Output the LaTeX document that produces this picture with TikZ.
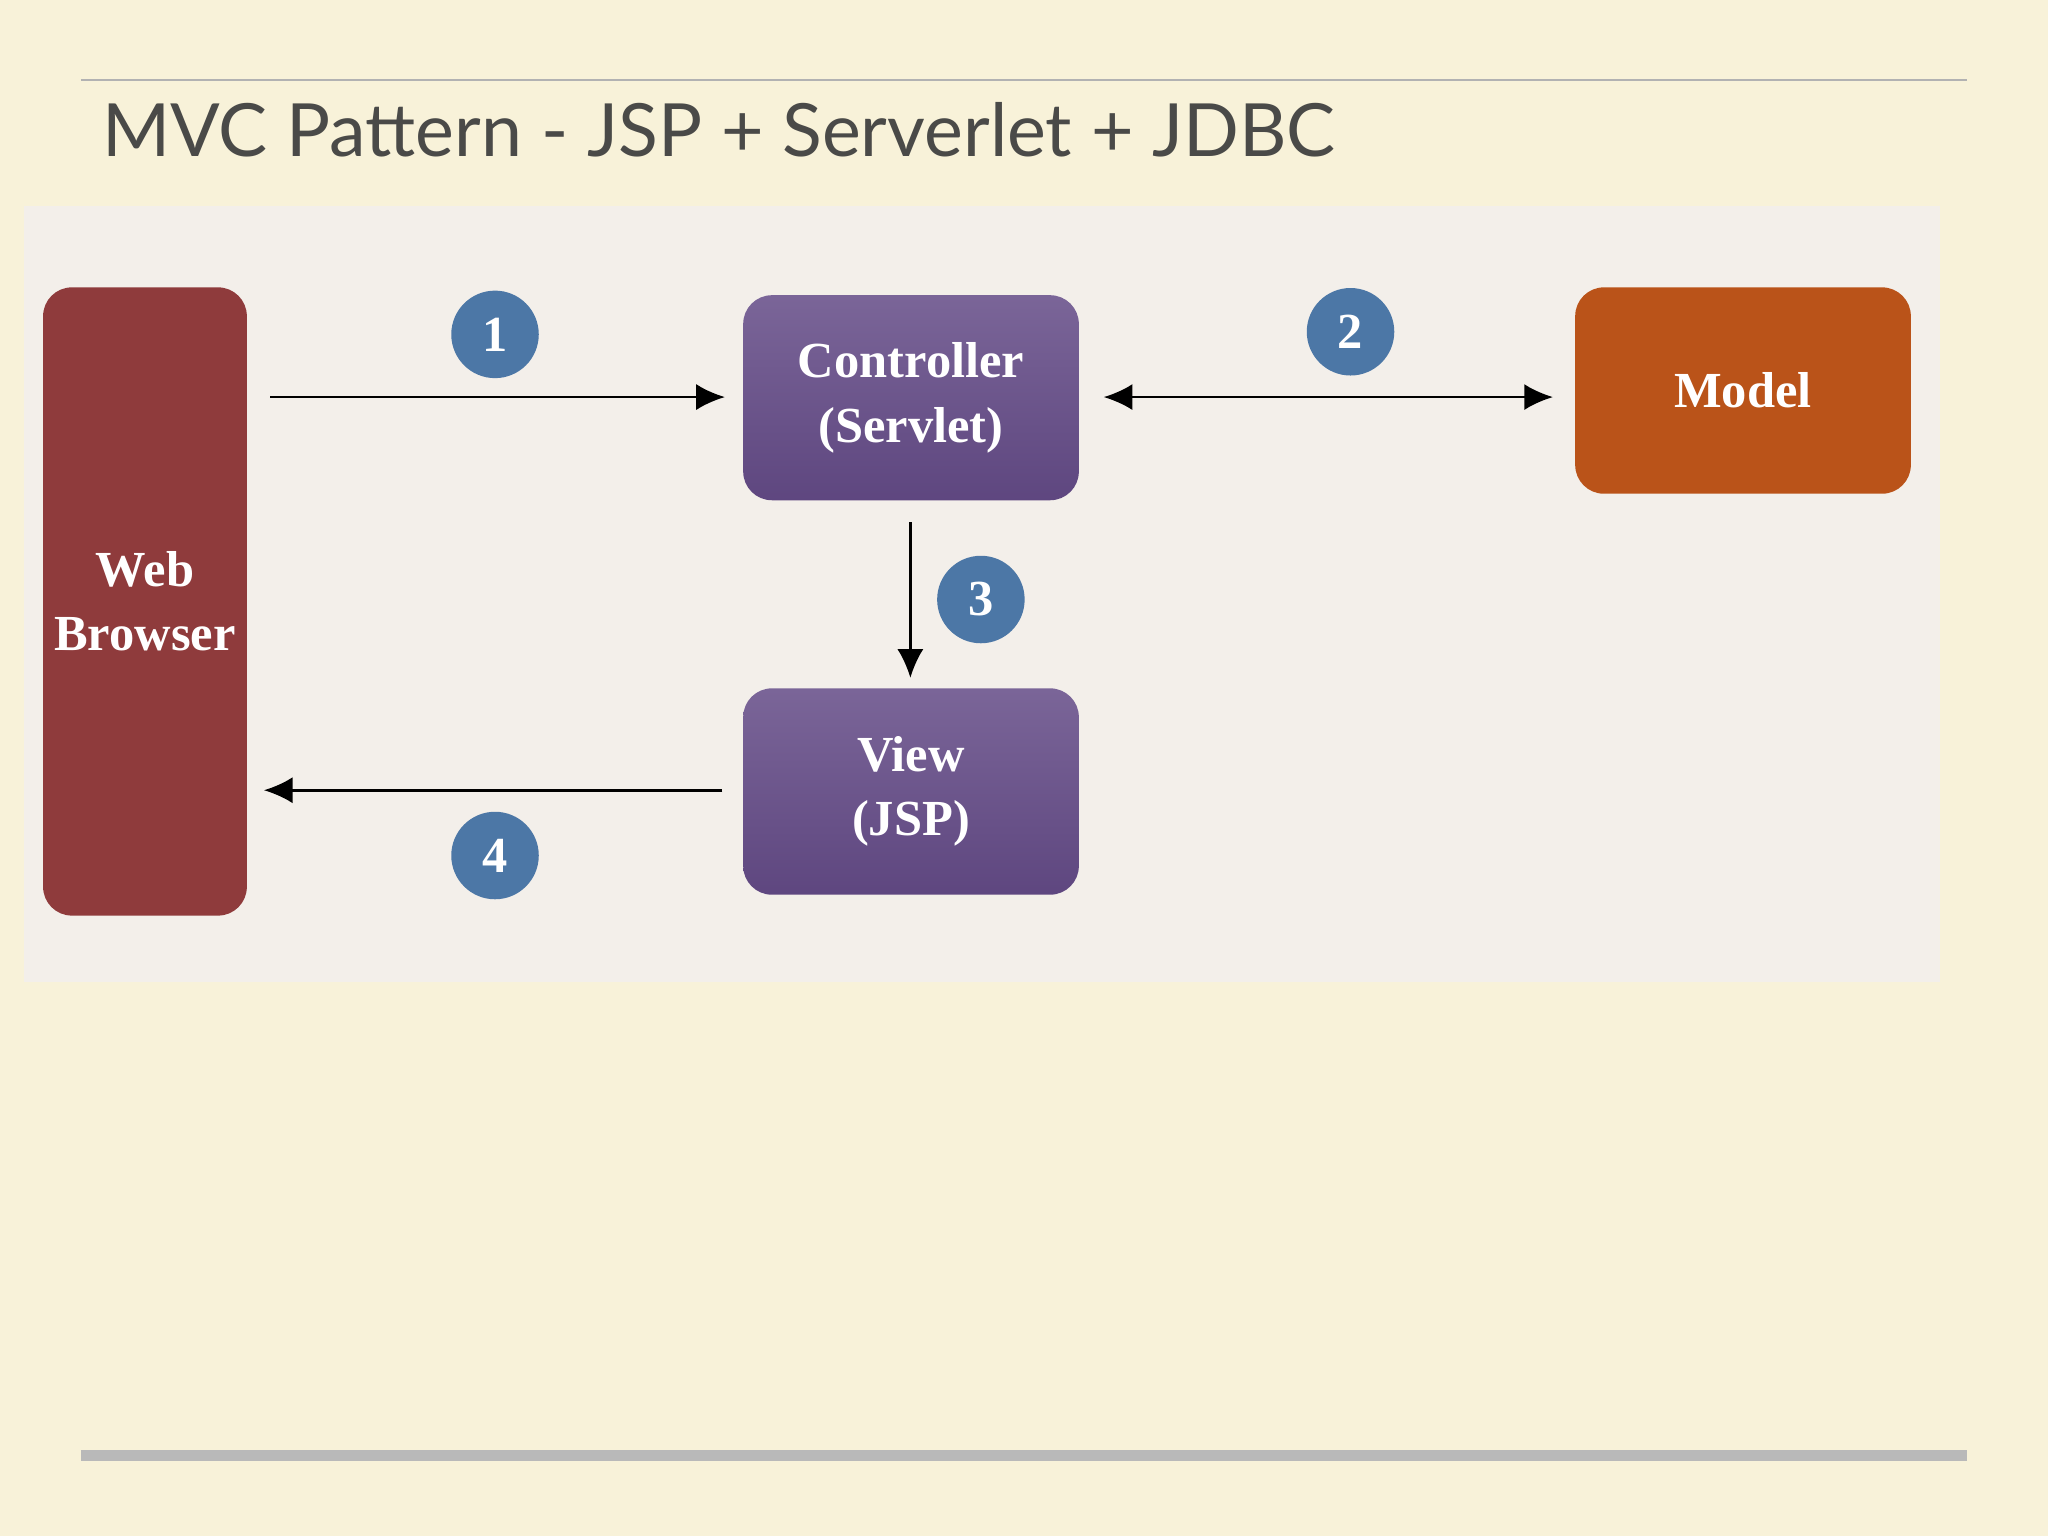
\documentclass[tikz,border=0pt]{standalone}
\usepackage{fontspec}
\setmainfont{Liberation Serif}
\newfontfamily\titlefont{Lato}
\usetikzlibrary{arrows.meta,positioning}
\definecolor{paper}{HTML}{F8F2D9}
\definecolor{panel}{HTML}{F3EFEA}
\definecolor{browsercol}{HTML}{8F3B3C}
\definecolor{ctrlcol}{HTML}{634A86}
\definecolor{modelcol}{HTML}{BA5319}
\definecolor{stepcol}{HTML}{4C77A6}
\definecolor{titlecol}{HTML}{4A4A48}
\tikzset{
  box/.style={rounded corners=2.2mm, inner sep=0pt, text=white, align=center,
    font=\bfseries\fontsize{11}{14}\selectfont},
  badge/.style={circle, fill=stepcol, inner sep=0pt, minimum size=6.7mm, text=white,
    font=\bfseries\fontsize{11}{12}\selectfont},
  flow/.style={black, line width=0.6pt, -{Latex[length=2.2mm,width=2mm]}}
}
\begin{document}
\begin{tikzpicture}[x=0.1mm,y=-0.1mm]
\useasboundingbox [fill=paper] (0,0) rectangle (1568,1176);
\draw [gray!60, line width=0.4pt] (62,61) -- (1506,61);
\draw [gray!55, line width=2.4pt] (62,1114) -- (1506,1114);
\node [anchor=base west, text=titlecol, font=\titlefont\fontsize{16}{18}\selectfont] (title) at (66,120) {MVC Pattern - JSP + Serverlet + JDBC};

\fill [panel] (18,158) rectangle (1485,752);

\node [box, fill=browsercol, minimum width=15.6mm, minimum height=48.1mm] (browser) at (111,460.5) {Web\\Browser};
\node [box, top color=ctrlcol!85!white, bottom color=ctrlcol!95!black, minimum width=25.7mm, minimum height=15.7mm] (ctrl) at (697.5,304.5) {Controller\\(Servlet)};
\node [box, top color=ctrlcol!85!white, bottom color=ctrlcol!95!black, minimum width=25.7mm, minimum height=15.8mm] (view) at (697.5,606) {View\\(JSP)};
\node [box, fill=modelcol, minimum width=25.7mm, minimum height=15.8mm] (model) at (1334.5,299) {Model};

\node [badge] (s1) at (379,256) {1};
\node [badge] (s2) at (1034,254) {2};
\node [badge] (s3) at (751,459) {3};
\node [badge] (s4) at (379,655) {4};

\coordinate (a1) at (207,304);
\coordinate (b1) at (555,304);
\coordinate (a2) at (845,304);
\coordinate (b2) at (1189,304);
\coordinate (a3) at (697,400);
\coordinate (b3) at (697,519);
\coordinate (a4) at (553,605);
\coordinate (b4) at (202,605);
\draw [flow] (a1) -- (b1);
\draw [flow, {Latex[length=2.2mm,width=2mm]}-{Latex[length=2.2mm,width=2mm]}] (a2) -- (b2);
\draw [flow] (a3) -- (b3);
\draw [flow] (a4) -- (b4);
\end{tikzpicture}
\end{document}
